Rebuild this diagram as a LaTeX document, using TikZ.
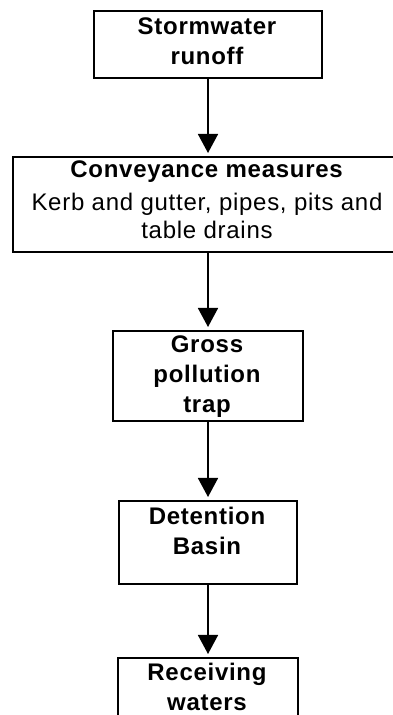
\documentclass[tikz,border=0pt]{standalone}
\usepackage{fontspec}
\setmainfont{Liberation Sans}[LetterSpace=3]
\usetikzlibrary{arrows.meta}
\begin{document}
\begin{tikzpicture}[x=1pt,y=1pt,
  box/.style={draw=black, line width=2pt, inner sep=0pt, fill=white},
  lbl/.style={align=center, inner sep=0pt, anchor=base, font=\fontsize{24}{30}\selectfont\bfseries},
  mixed/.style={align=center, inner sep=0pt, anchor=base, font=\fontsize{24}{28}\selectfont},
  flow/.style={line width=1.6pt, -{Triangle[width=20pt,length=19pt]}, shorten >=3pt}
]
\useasboundingbox (0,0) rectangle (393,715);
\fill[white] (0,0) rectangle (393,715);

\node[box, minimum width=228, minimum height=67, anchor=north west] (b1) at (93,705) {};
\node[box, minimum width=390, minimum height=95, anchor=north west] (b2) at (12,559) {};
\node[box, minimum width=190, minimum height=90, anchor=north west] (b3) at (112,385) {};
\node[box, minimum width=178, minimum height=83, anchor=north west] (b4) at (118,215) {};
\node[box, minimum width=180, minimum height=90, anchor=north west] (b5) at (117,58) {};

\node[lbl] (t1) at (207,650) {Stormwater\\runoff};
\node[mixed] (t2) at (207,476) {\textbf{Conveyance measures}\\[5pt]Kerb and gutter, pipes, pits and\\table drains};
\node[lbl] (t3) at (207,302) {Gross\\pollution\\trap};
\node[lbl] (t4) at (207,160) {Detention\\Basin};
\node[lbl] (t5) at (207,5) {Receiving\\waters};

\draw[flow] (b1.south) -- (b1.south |- b2.north);
\draw[flow] (b2.south) -- (b2.south |- b3.north);
\draw[flow] (b3.south) -- (b3.south |- b4.north);
\draw[flow] (b4.south) -- (b4.south |- b5.north);
\end{tikzpicture}
\end{document}
